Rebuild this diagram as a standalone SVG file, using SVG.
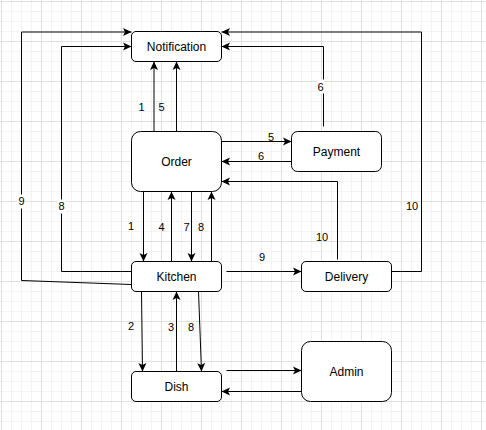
<svg xmlns="http://www.w3.org/2000/svg" width="486" height="430" viewBox="0 0 486 430">
<defs>
<pattern id="grid" patternUnits="userSpaceOnUse" x="1" y="1" width="40" height="40">
<path d="M10.5 0V40M20.5 0V40M30.5 0V40M0 10.5H40M0 20.5H40M0 30.5H40" stroke="#f3f3f3" stroke-width="1" fill="none"/>
<path d="M0.5 0V40M0 0.5H40" stroke="#e0e0e0" stroke-width="1" fill="none"/>
</pattern>
<marker id="arr" markerUnits="userSpaceOnUse" viewBox="-9 -5 10 10" refX="0" refY="0" markerWidth="10" markerHeight="10" orient="auto">
<path d="M0 0L-8.5 -4L-6.5 0L-8.5 4Z" fill="#000"/>
</marker>
</defs>
<style>
.node rect{fill:#fff;stroke:#000;stroke-width:1}
.node text{font-family:"Liberation Sans",Arial,sans-serif;font-size:12px;fill:#000;text-anchor:middle}
.edges path{fill:none;stroke:#000;stroke-width:1}
.edges path.a{marker-end:url(#arr)}
.lbl text{font-family:"Liberation Sans",Arial,sans-serif;font-size:11px;fill:#000;text-anchor:middle}
.lbl rect{fill:#fff}
</style>
<rect width="486" height="430" fill="#fff"/>
<rect width="486" height="430" fill="url(#grid)"/>
<g transform="translate(0.5,0.5)">
<g id="connectors" class="edges">
<path class="a" d="M153.5 131V61"/>
<path class="a" d="M176 131V61"/>
<path class="a" d="M221 141H291"/>
<path class="a" d="M291 161H221"/>
<path class="a" d="M323 126V46H221"/>
<path class="a" d="M337 259V181H221"/>
<path class="a" d="M391 271H421V31.5H221"/>
<path class="a" d="M226 271H301"/>
<path class="a" d="M143 191V261"/>
<path class="a" d="M171 261V191"/>
<path class="a" d="M191 191V261"/>
<path class="a" d="M211 261V191"/>
<path class="a" d="M141 291L142 371"/>
<path class="a" d="M176 371V291"/>
<path class="a" d="M198 291L201 371"/>
<path class="a" d="M226 370H301"/>
<path class="a" d="M301 391H221"/>
<path class="a" d="M131 284L21 280V31.5H131"/>
<path class="a" d="M131 271H61V46H131"/>
</g>
<g id="notification" class="node"><rect x="131" y="31" width="90" height="30" rx="4.5"/><text x="176" y="50">Notification</text></g>
<g id="order" class="node"><rect x="131" y="131" width="90" height="60" rx="9"/><text x="176" y="165">Order</text></g>
<g id="payment" class="node"><rect x="291" y="131" width="90" height="40" rx="6"/><text x="336" y="155">Payment</text></g>
<g id="kitchen" class="node"><rect x="131" y="261" width="90" height="30" rx="4.5"/><text x="176" y="280">Kitchen</text></g>
<g id="delivery" class="node"><rect x="301" y="261" width="90" height="30" rx="4.5"/><text x="346" y="280">Delivery</text></g>
<g id="dish" class="node"><rect x="131" y="371" width="90" height="30" rx="4.5"/><text x="176" y="390">Dish</text></g>
<g id="admin" class="node"><rect x="301" y="341" width="90" height="60" rx="9"/><text x="346" y="375">Admin</text></g>
<g id="labels" class="lbl">
<text x="141" y="110">1</text>
<text x="161" y="110">5</text>
<text x="270.5" y="140">5</text>
<text x="260.5" y="159.5">6</text>
<rect x="316.5" y="79" width="7" height="14"/><text x="320" y="90">6</text>
<text x="411.5" y="209.5">10</text>
<text x="321.5" y="240">10</text>
<text x="261.5" y="260">9</text>
<text x="130.5" y="229.5">1</text>
<text x="161" y="230">4</text>
<text x="186" y="230">7</text>
<text x="200.5" y="230">8</text>
<text x="130.5" y="329.5">2</text>
<text x="170.5" y="330">3</text>
<text x="190.5" y="330">8</text>
<rect x="17" y="194" width="8" height="14"/><text x="21" y="204.5">9</text>
<rect x="57" y="199" width="8" height="14"/><text x="61" y="209.5">8</text>
</g>
</g>
</svg>
